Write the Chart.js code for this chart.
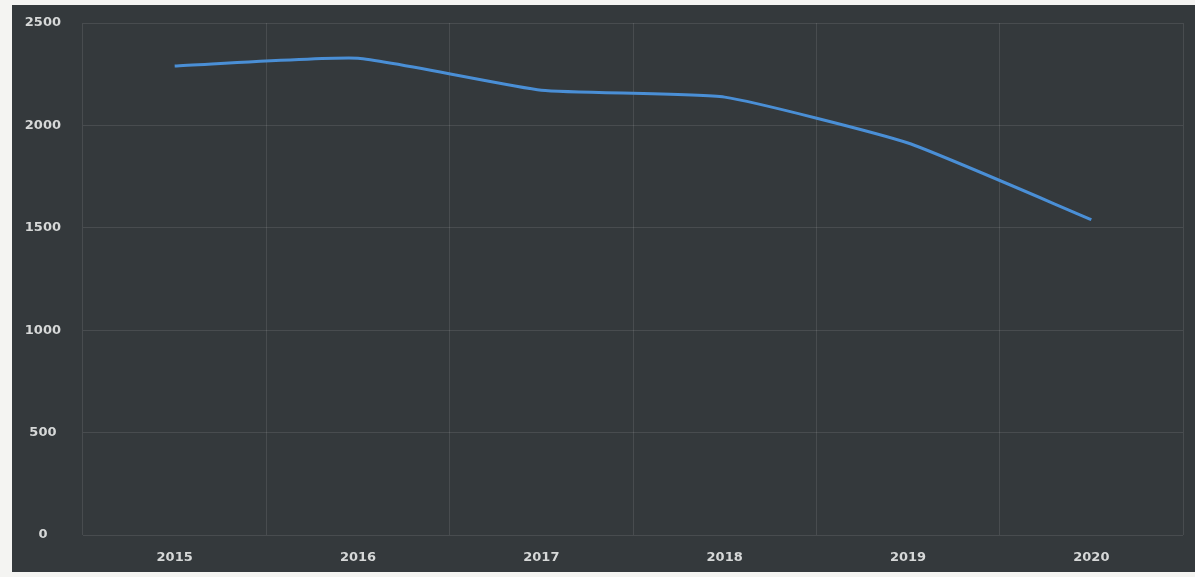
<!DOCTYPE html>
<html>
<head>
<meta charset="utf-8">
<script src="https://cdn.jsdelivr.net/npm/chart.js@4/dist/chart.umd.min.js"></script>
<style>
  html, body { margin: 0; padding: 0; background: #f4f4f2; }
  #panel { position: absolute; left: 12px; top: 5px; width: 1183px; height: 567px; background: #34393c; }
  #chart { display: block; }
</style>
</head>
<body>
<div id="panel"><canvas id="chart" width="1183" height="567"></canvas></div>
<script>
  // values
  const years = ['2015', '2016', '2017', '2018', '2019', '2020'];
  const values = [2290, 2328, 2172, 2138, 1914, 1540];
  const yMin = 0, yMax = 2500, yStep = 500;

  const gridColor = 'rgba(200,200,200,0.14)';
  const tickColor = '#d6d8d8';
  const font = { family: '"DejaVu Sans", sans-serif', size: 13, weight: '600' };

  new Chart(document.getElementById('chart').getContext('2d'), {
    type: 'line',
    data: {
      labels: years,
      datasets: [{
        data: values, borderColor: '#4a8fd6', borderWidth: 3,
        pointRadius: 0, tension: 0.15, fill: false,
      }],
    },
    options: {
      responsive: false,
      animation: false,
      layout: { padding: { top: 18, right: 12, bottom: 0, left: 0 } },
      plugins: { legend: { display: false }, tooltip: { enabled: false } },
      scales: {
        x: {
          offset: true,
          grid: { color: gridColor, offset: true, drawTicks: false },
          border: { display: false },
          ticks: { color: tickColor, font, padding: 15, maxRotation: 0 },
          afterFit: (s) => { s.height = 37; s.paddingLeft = 0; s.paddingRight = 0; },
        },
        y: {
          min: yMin, max: yMax,
          grid: { color: gridColor, drawTicks: false },
          border: { display: false },
          ticks: {
            color: tickColor, font, stepSize: yStep, padding: 22, crossAlign: 'center',
            callback: (v) => String(v),
          },
          // fixed gutter; label overflow handled by layout padding
          afterFit: (s) => { s.width = 71; s.paddingTop = 0; s.paddingBottom = 0; },
        },
      },
    },
  });
</script>
</body>
</html>
